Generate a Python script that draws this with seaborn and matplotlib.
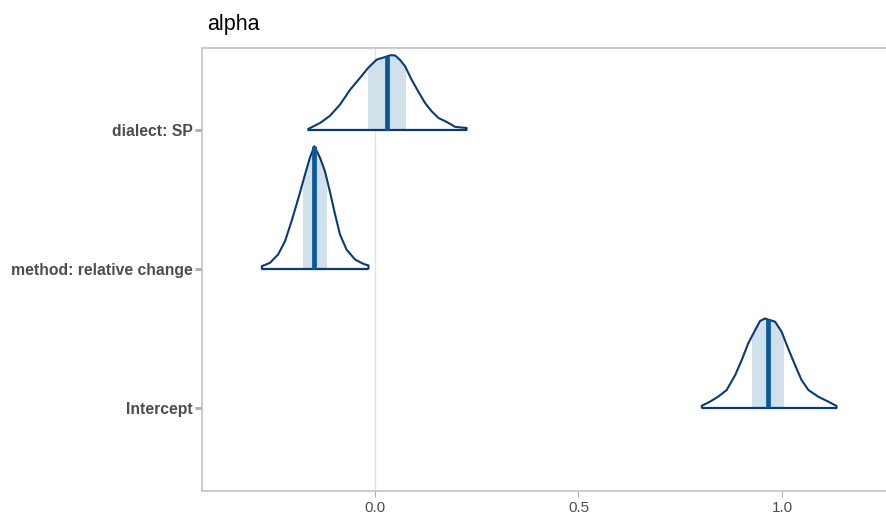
import numpy as np
import pandas as pd
import matplotlib
matplotlib.use("Agg")
import matplotlib.pyplot as plt
import seaborn as sns
from matplotlib.patches import Rectangle

# Parameter labels, bottom to top
params = ["Intercept", "method: relative change", "dialect: SP"]

# Posterior density curves (parameter value, scaled density height)
intercept_x = [0.803, 0.803, 0.823, 0.843, 0.864, 0.885, 0.901, 0.917, 0.934, 0.946,
               0.958, 0.962, 0.983, 0.999, 1.015, 1.032, 1.048, 1.065, 1.089, 1.114, 1.134, 1.134]
intercept_d = [0.0, 0.014, 0.043, 0.079, 0.127, 0.235, 0.343, 0.463, 0.559, 0.624,
               0.642, 0.638, 0.619, 0.547, 0.427, 0.307, 0.199, 0.127, 0.079, 0.043, 0.012, 0.0]

method_x = [-0.278, -0.278, -0.258, -0.238, -0.221, -0.205, -0.188, -0.172, -0.160, -0.149,
            -0.135, -0.123, -0.111, -0.098, -0.086, -0.070, -0.049, -0.029, -0.016, -0.016]
method_d = [0.0, 0.019, 0.043, 0.103, 0.199, 0.343, 0.511, 0.678, 0.799, 0.883,
            0.799, 0.703, 0.559, 0.391, 0.247, 0.139, 0.067, 0.036, 0.024, 0.0]

dialect_x = [-0.164, -0.164, -0.135, -0.111, -0.086, -0.061, -0.037, -0.017, 0.004, 0.025,
             0.037, 0.049, 0.061, 0.074, 0.090, 0.106, 0.123, 0.139, 0.156, 0.176, 0.197, 0.225, 0.225]
dialect_d = [0.0, 0.007, 0.050, 0.101, 0.182, 0.290, 0.374, 0.446, 0.506, 0.525,
             0.537, 0.537, 0.506, 0.458, 0.362, 0.278, 0.194, 0.135, 0.086, 0.058, 0.022, 0.014, 0.0]

# Posterior medians and inner (50%) interval bounds
medians = [0.965, -0.149, 0.029]
inner_lo = [0.927, -0.178, -0.016]
inner_hi = [1.003, -0.120, 0.074]

curves_x = [intercept_x, method_x, dialect_x]
curves_d = [intercept_d, method_d, dialect_d]

rows = []
for i, (name, xs, ds) in enumerate(zip(params, curves_x, curves_d)):
    for xv, dv in zip(xs, ds):
        rows.append({"param": name, "x": xv, "y": i + 1 + dv})
df = pd.DataFrame(rows)

sns.set_theme(style="white")
plt.rcParams["font.family"] = ["Liberation Sans", "DejaVu Sans"]

outline = "#0b3a70"
fill = "#d1e1ec"
median_col = "#0a5898"
frame = "#c4c4c4"
txt = "#4d4d4d"

fig = plt.figure(figsize=(8.86, 5.15), dpi=100)
ax = fig.add_axes([0.228, 0.0466, 0.772, 0.8602])

ax.axvline(0, color="#e3e3e3", lw=1.0, zorder=0)

# Inner interval shading, clipped to the interval bounds
for i, (xs, ds) in enumerate(zip(curves_x, curves_d)):
    base = i + 1
    poly = ax.fill_between(xs, base, np.array(ds) + base, color=fill, lw=0, zorder=1)
    clip = Rectangle((inner_lo[i], base), inner_hi[i] - inner_lo[i], 1.2,
                     transform=ax.transData)
    poly.set_clip_path(clip)

# Density outlines
sns.lineplot(data=df, x="x", y="y", units="param", estimator=None, sort=False,
             color=outline, lw=1.5, ax=ax, zorder=2, solid_joinstyle="round")
for i, xs in enumerate(curves_x):
    ax.plot([xs[0], xs[-1]], [i + 1, i + 1], color=outline, lw=1.6, zorder=2,
            solid_capstyle="butt")

# Median segments
for i, (xs, ds) in enumerate(zip(curves_x, curves_d)):
    h = np.interp(medians[i], xs, ds)
    ax.plot([medians[i], medians[i]], [i + 1, i + 1 + h], color=median_col, lw=3.4,
            zorder=3, solid_capstyle="butt")

ax.set_xlim(-0.425, 1.2555)
ax.set_ylim(0.40, 3.59)
ax.set_xticks([0.0, 0.5, 1.0])
ax.set_xticklabels(["0.0", "0.5", "1.0"])
ax.set_yticks([1, 2, 3])
ax.set_yticklabels(params, fontweight="bold")
ax.set_xlabel("")
ax.set_ylabel("")

for s in ["left", "bottom", "top"]:
    ax.spines[s].set_visible(True)
    ax.spines[s].set_color(frame)
    ax.spines[s].set_linewidth(1.2)
ax.spines["right"].set_visible(False)

ax.tick_params(axis="y", length=5, width=2.2, color="#b0b0b0", pad=2,
               labelsize=11.3, labelcolor=txt, left=True)
ax.tick_params(axis="x", length=4, width=0.8, color="#b0b0b0", pad=3,
               labelsize=11, labelcolor=txt, bottom=True)

fig.text(0.2336, 0.952, "alpha", fontsize=15.5, color="black", ha="left", va="center")

fig.savefig("out.png", dpi=100)
